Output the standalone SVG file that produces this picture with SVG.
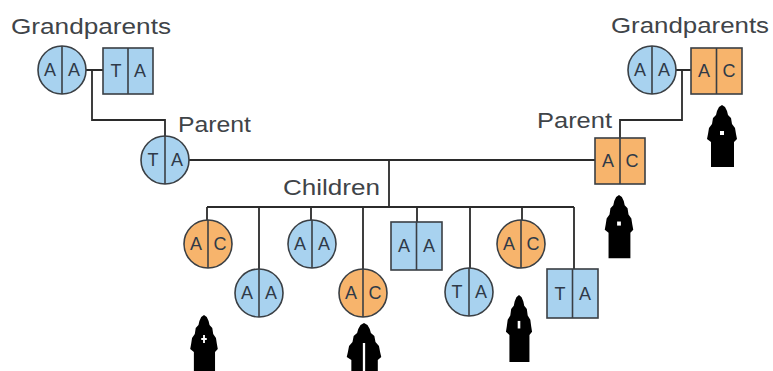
<svg xmlns="http://www.w3.org/2000/svg" xmlns:xlink="http://www.w3.org/1999/xlink" width="773" height="371" viewBox="0 0 773 371">
<style>
.lbl{font-family:"Liberation Sans",Arial,sans-serif;font-size:22px;fill:#404448}
.g{font-family:"Liberation Sans",Arial,sans-serif;font-size:18px;fill:#2f3a48;text-anchor:middle}
.b{fill:#a8d2ef;stroke:#3a3f44;stroke-width:1.6}
.o{fill:#f7b46c;stroke:#3a3f44;stroke-width:1.6}
.d{stroke:#3a3f44;stroke-width:1.6;fill:none}
.c{stroke:#2b2b2b;stroke-width:1.8;fill:none}
.ar{fill:#000}
.hole{fill:#fff}
</style>
<defs>
<path id="arrow" d="M0,0 L3,2 L5,6 L6,10 L9,13 L10,19 L13,23 L14,29 L15,34 L12,37 L12,62 L-11,62 L-11,37 L-15,34 L-14,29 L-13,23 L-10,19 L-9,13 L-6,10 L-5,6 L-3,2 Z"/>
</defs>
<rect width="773" height="371" fill="#fff"/>

<g id="connectors">
<path class="c" d="M86,70 H103 M92,70 V120 H165 V136"/>
<path class="c" d="M676,70 H691 M682,70 V120 H620 V138"/>
<path class="c" d="M189,160 H595 M389,160 V207 M207,207 H574"/>
<path class="c" d="M207,207 V220 M259,207 V269 M311,207 V220 M363,207 V269 M417,207 V222 M470,207 V268 M522,207 V220 M574,207 V269"/>
</g>

<g id="labels">
<text class="lbl" x="11" y="34" textLength="160" lengthAdjust="spacingAndGlyphs">Grandparents</text>
<text class="lbl" x="611" y="33" textLength="158" lengthAdjust="spacingAndGlyphs">Grandparents</text>
<text class="lbl" x="178" y="132" textLength="73" lengthAdjust="spacingAndGlyphs">Parent</text>
<text class="lbl" x="537" y="128" textLength="75" lengthAdjust="spacingAndGlyphs">Parent</text>
<text class="lbl" x="283" y="195" textLength="97" lengthAdjust="spacingAndGlyphs">Children</text>
</g>

<g id="gp-left-f">
<circle class="b" cx="62" cy="70" r="24"/><path class="d" d="M62,46 V94"/>
<text class="g" x="50" y="76">A</text><text class="g" x="74" y="76">A</text>
</g>
<g id="gp-left-m">
<rect class="b" x="103" y="48" width="50" height="46"/><path class="d" d="M128,48 V94"/>
<text class="g" x="116" y="77">T</text><text class="g" x="140" y="77">A</text>
</g>
<g id="parent-left">
<circle class="b" cx="165" cy="160" r="24"/><path class="d" d="M165,136 V184"/>
<text class="g" x="153" y="166">T</text><text class="g" x="177" y="166">A</text>
</g>
<g id="gp-right-f">
<circle class="b" cx="652" cy="70" r="24"/><path class="d" d="M652,46 V94"/>
<text class="g" x="640" y="76">A</text><text class="g" x="664" y="76">A</text>
</g>
<g id="gp-right-m">
<rect class="o" x="691" y="48" width="51" height="46"/><path class="d" d="M716.5,48 V94"/>
<text class="g" x="704" y="77">A</text><text class="g" x="729" y="77">C</text>
</g>
<g id="parent-right">
<rect class="o" x="595" y="138" width="50" height="46"/><path class="d" d="M620,138 V184"/>
<text class="g" x="608" y="167">A</text><text class="g" x="632" y="167">C</text>
</g>

<g id="child1">
<circle class="o" cx="208" cy="244" r="24"/><path class="d" d="M208,220 V268"/>
<text class="g" x="196" y="250">A</text><text class="g" x="220" y="250">C</text>
</g>
<g id="child2">
<circle class="b" cx="259" cy="293" r="24"/><path class="d" d="M259,269 V317"/>
<text class="g" x="247" y="299">A</text><text class="g" x="271" y="299">A</text>
</g>
<g id="child3">
<circle class="b" cx="312" cy="244" r="24"/><path class="d" d="M312,220 V268"/>
<text class="g" x="300" y="250">A</text><text class="g" x="324" y="250">A</text>
</g>
<g id="child4">
<circle class="o" cx="363" cy="293" r="24"/><path class="d" d="M363,269 V317"/>
<text class="g" x="351" y="299">A</text><text class="g" x="375" y="299">C</text>
</g>
<g id="child5">
<rect class="b" x="391" y="222" width="51" height="48"/><path class="d" d="M416.5,222 V270"/>
<text class="g" x="404" y="252">A</text><text class="g" x="429" y="252">A</text>
</g>
<g id="child6">
<circle class="b" cx="469" cy="292" r="24"/><path class="d" d="M469,268 V316"/>
<text class="g" x="457" y="298">T</text><text class="g" x="481" y="298">A</text>
</g>
<g id="child7">
<circle class="o" cx="521" cy="244" r="24"/><path class="d" d="M521,220 V268"/>
<text class="g" x="509" y="250">A</text><text class="g" x="533" y="250">C</text>
</g>
<g id="child8">
<rect class="b" x="547" y="269" width="51" height="49"/><path class="d" d="M572.5,269 V318"/>
<text class="g" x="560" y="300">T</text><text class="g" x="585" y="300">A</text>
</g>

<g id="arrows">
<g transform="translate(722,105)"><use xlink:href="#arrow" class="ar"/><rect class="hole" x="-2" y="26" width="4" height="4"/></g>
<g transform="translate(619,195) scale(0.95,1.02)"><use xlink:href="#arrow" class="ar"/><rect class="hole" x="-2" y="26" width="4" height="4"/></g>
<g transform="translate(204,315) scale(0.92,1)"><use xlink:href="#arrow" class="ar"/><rect class="hole" x="-1" y="20" width="2" height="8"/><rect class="hole" x="-3" y="23" width="6" height="2"/></g>
<g transform="translate(364,323) scale(1.15,1)"><use xlink:href="#arrow" class="ar"/><rect class="hole" x="-1" y="20" width="2" height="45"/></g>
<g transform="translate(519,295) scale(0.87,1.08)"><use xlink:href="#arrow" class="ar"/><rect class="hole" x="-1.5" y="24" width="3" height="7"/></g>
</g>
</svg>
